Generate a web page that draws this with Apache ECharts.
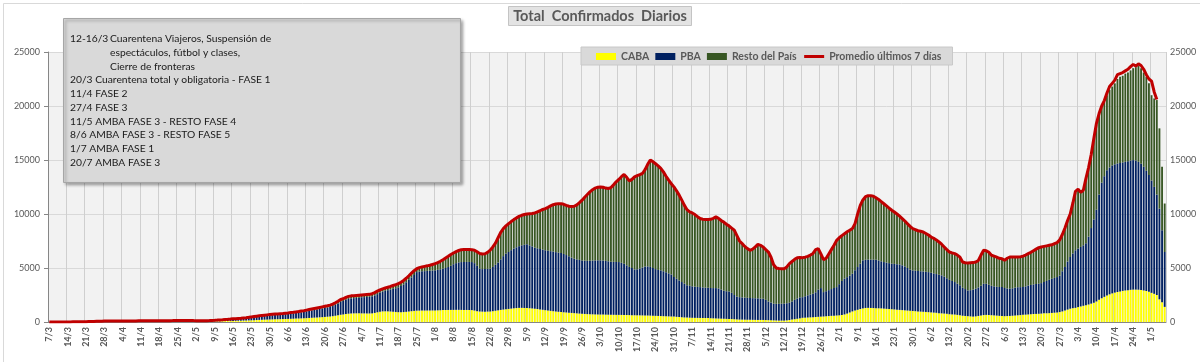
<!DOCTYPE html>
<html>
<head>
<meta charset="utf-8">
<script src="https://cdn.jsdelivr.net/npm/echarts@6/dist/echarts.min.js"></script>
<style>
html,body{margin:0;padding:0;background:#fff;}
#chart{width:1200px;height:362px;}
</style>
</head>
<body>
<div id="chart"></div>
<script>
// ---- DATA ----
const startDate = [2020, 3, 7]; // first category: 7/3/2020
const dayCount = 426;
const seriesNames = ['CABA', 'PBA', 'Resto del País', 'Promedio últimos 7 días'];
const yTicks = [0, 5000, 10000, 15000, 20000, 25000];

const caba = [
0,1,1,1,2,2,3, 3,4,5,6,7,8,10, 12,14,16,18,20,22,24, 26,28,29,30,30,30,30,
30,30,31,31,32,32,33, 33,33,34,34,35,35,36, 36,37,38,40,42,44,47, 50,52,53,52,51,49,46,
45,43,42,44,47,52,58, 62,68,74,80,86,92,98, 104,110,116,122,130,138,148, 158,170,182,194,205,215,225,
235,242,250,258,265,272,280, 288,296,305,315,325,336,348, 360,375,390,405,420,435,450, 470,490,510,540,580,620,670,
700,740,770,790,800,805,805, 800,795,790,790,800,840,900, 960,985,990,985,970,950,930, 910,910,920,940,970,1000,1030,
1050,1055,1060,1060,1065,1065,1070, 1070,1080,1090,1100,1110,1115,1120, 1120,1125,1125,1120,1120,1115,1110, 1100,1060,1000,970,960,960,965,
970,1000,1040,1080,1120,1150,1180, 1210,1240,1270,1290,1310,1310,1300, 1290,1275,1255,1230,1200,1165,1130, 1095,1060,1030,1000,970,945,920,
900,880,860,840,820,800,780, 760,745,730,720,710,700,695, 690,685,680,675,670,665,662, 660,655,650,645,640,630,625,
620,615,610,605,600,590,580, 570,560,550,540,530,520,510, 500,480,460,440,420,410,400, 390,385,380,375,370,365,360,
350,340,330,320,310,300,290, 280,270,255,240,225,220,215, 210,205,200,195,190,190,190, 180,170,160,150,140,130,130,
130,150,180,220,260,300,340, 390,400,415,430,440,460,480, 500,510,530,550,570,590,600, 620,650,700,780,880,980,1060,
1130,1200,1260,1300,1310,1300,1290, 1280,1270,1260,1240,1220,1200,1180, 1160,1140,1120,1100,1080,1060,1040, 1020,1000,980,960,945,930,910,
890,870,850,820,800,780,760, 720,700,690,660,620,580,560, 540,520,500,520,560,600,640, 660,650,630,610,590,570,550,
540,550,560,580,600,620,640, 660,680,700,720,740,750,760, 780,800,810,820,840,860,880, 920,980,1060,1150,1230,1280,1310,
1380,1440,1500,1560,1620,1700,1780, 1900,2050,2200,2330,2450,2560,2650, 2720,2780,2830,2880,2920,2950,2980, 3000,3000,2990,2960,2920,2870,2800,
2700,2610,2500,2100,1840,1400
];

const pba = [
0,0,1,1,1,1,1, 2,2,3,3,4,5,6, 8,10,12,14,17,20,23, 25,27,28,29,30,30,30,
31,32,32,33,33,34,34, 35,35,36,36,37,37,38, 39,40,42,44,46,50,53, 56,59,60,60,59,57,54,
52,50,49,50,54,58,64, 72,80,90,100,110,120,132, 145,158,170,182,196,210,228, 250,270,292,313,332,350,368,
385,396,406,416,428,440,455, 470,488,506,526,546,570,594, 625,655,685,715,745,775,805, 830,855,885,935,1010,1095,1190,
1250,1320,1370,1400,1410,1420,1440, 1490,1510,1530,1545,1580,1620,1680, 1780,1830,1900,1960,2030,2120,2200, 2300,2420,2560,2740,2940,3130,3320,
3570,3605,3630,3650,3665,3685,3700, 3710,3750,3790,3840,3890,3975,4080, 4230,4325,4395,4430,4440,4445,4450, 4450,4390,4200,3980,3940,3940,3955,
3960,4100,4260,4420,4680,4950,5170, 5270,5410,5530,5630,5710,5790,5850, 5900,5825,5745,5650,5620,5595,5570, 5545,5540,5530,5520,5500,5475,5470,
5400,5320,5220,5120,5040,5000,4970, 4940,4935,4930,4950,4980,5000,5015, 5020,5005,4980,4945,4920,4905,4898, 4890,4825,4750,4605,4460,4370,4245,
4260,4335,4440,4545,4550,4510,4420, 4330,4260,4230,4160,4070,3980,3890, 3660,3520,3390,3260,3130,2990,2950, 2910,2885,2870,2855,2830,2815,2800,
2800,2800,2810,2780,2690,2600,2560, 2550,2430,2245,2110,2075,2060,2045, 2030,2015,2010,2005,2000,1980,1960, 1870,1730,1640,1550,1540,1550,1560,
1570,1590,1600,1680,1790,1880,1940, 1910,1980,2055,2120,2180,2290,2520, 2640,2260,2320,2400,2480,2560,2630, 2880,3150,3310,3370,3420,3490,3740,
3960,4200,4450,4460,4470,4480,4480, 4480,4430,4360,4310,4280,4250,4220, 4220,4210,4210,4150,4070,3940,3810, 3760,3750,3740,3740,3735,3720,3710,
3670,3630,3590,3560,3520,3420,3290, 3180,3100,3010,2890,2780,2590,2490, 2380,2430,2500,2560,2640,2750,2900, 2880,2800,2720,2690,2670,2670,2680,
2610,2550,2520,2540,2580,2600,2590, 2590,2620,2680,2710,2740,2770,2780, 2820,2900,2990,3090,3160,3220,3280, 3380,3720,4040,4450,4790,5070,5330,
5420,5510,5600,5740,6280,7000,7720, 8500,9750,10700,11170,11610,11740,11850, 11880,11900,11890,11900,11910,11930,11970, 11990,11950,11840,11690,11450,11130,10800,
10400,9900,9300,8400,6650,5080
];

const resto = [
1,1,1,1,1,2,2, 3,4,4,5,6,7,8, 10,12,14,18,21,24,27, 31,33,35,36,37,38,38,
38,38,38,38,38,38,38, 37,38,36,37,36,36,35, 35,35,34,34,34,34,35, 36,37,37,36,35,34,32,
28,25,24,24,24,25,26, 28,30,31,32,34,36,38, 41,42,44,46,49,52,54, 57,60,61,63,63,65,67,
70,72,74,76,77,78,80, 82,86,89,94,99,104,108, 115,120,125,130,135,140,145, 150,155,160,165,170,178,185,
190,200,205,205,205,210,215, 210,215,220,225,235,245,260, 265,270,275,280,290,305,320, 330,340,350,360,370,380,390,
310,370,410,440,470,510,560, 620,670,740,820,920,990,1050, 1040,1070,1100,1150,1160,1160,1150, 1150,1200,1300,1400,1400,1420,1530,
1720,1850,2000,2300,2500,2550,2550, 2630,2650,2680,2720,2760,2780,2800, 2810,2920,3040,3220,3380,3540,3720, 3860,4020,4190,4340,4460,4540,4570,
4600,4600,4640,4740,4860,5050,5300, 5580,5870,6140,6380,6560,6700,6770, 6800,6790,6740,6740,6860,7130,7420, 7650,7970,8260,8150,7970,8200,8570,
8670,8700,8700,8950,9450,9890,9850, 9750,9630,9440,9200,8900,8630,8400, 8350,8150,7900,7580,7250,7000,6850, 6800,6680,6500,6350,6320,6320,6340,
6360,6460,6590,6500,6400,6350,6200, 6070,6000,6000,5650,5200,4980,4740, 4560,4420,4540,4750,5000,4930,4800, 4650,4580,4200,3600,3320,3270,3250,
3240,3360,3620,3700,3750,3780,3700, 3660,3620,3610,3650,3730,3950,3800, 3160,3000,3050,3350,3650,3950,4330, 4300,4200,4170,4200,4200,4180,4310,
4910,5400,5590,5840,5920,5920,5880, 5740,5650,5530,5400,5250,5100,4950, 4800,4650,4470,4330,4200,4100,4000, 3870,3800,3730,3700,3660,3550,3430,
3310,3250,3160,3030,2880,2750,2650, 2580,2600,2630,2650,2600,2380,2430, 2540,2530,2500,2470,2500,2850,3100, 3060,3000,2830,2800,2740,2660,2630,
2560,2800,2940,2900,2840,2800,2800, 2850,2900,2950,3020,3120,3230,3340, 3350,3300,3250,3190,3150,3170,3190, 3300,3400,3600,3800,3980,4650,5460,
5400,5050,5000,5900,6300,6600,7300, 7900,7400,7000,6900,6940,7200,7300, 7500,7820,7980,8020,8170,8220,8350, 8510,8650,8870,8850,8730,8700,8500,
7900,8190,8750,7430,5880,4490
];

const promedio = [
1,2,3,3,4,5,6, 8,10,12,14,17,20,24, 30,36,42,50,58,66,74, 82,88,92,95,97,98,98,
99,100,101,102,103,104,105, 105,106,106,107,108,108,109, 110,112,114,118,122,128,135, 142,148,150,148,145,140,132,
125,118,115,118,125,135,148, 162,178,195,212,230,248,268, 290,310,330,350,375,400,430, 465,500,535,570,600,630,660,
690,710,730,750,770,790,815, 840,870,900,935,970,1010,1050, 1100,1150,1200,1250,1300,1350,1400, 1450,1500,1560,1650,1780,1920,2080,
2150,2280,2370,2420,2440,2460,2480, 2500,2520,2540,2560,2620,2720,2860, 2980,3070,3150,3220,3290,3380,3460, 3550,3680,3850,4050,4280,4520,4750,
4930,5030,5100,5150,5200,5260,5330, 5400,5500,5620,5760,5920,6080,6250, 6390,6520,6620,6700,6720,6720,6710, 6700,6650,6500,6350,6300,6320,6450,
6650,6950,7300,7800,8300,8650,8900, 9110,9300,9480,9640,9780,9880,9950, 10000,10020,10040,10100,10200,10300,10420, 10500,10620,10750,10860,10930,10960,10960,
10900,10800,10720,10700,10720,10850,11050, 11280,11550,11800,12050,12250,12400,12480, 12510,12480,12400,12360,12450,12700,12980, 13200,13450,13660,13400,13070,13200,13440,
13550,13650,13750,14100,14600,14990,14850, 14650,14450,14220,13900,13500,13130,12800, 12510,12150,11750,11280,10800,10400,10200, 10100,9950,9750,9580,9520,9500,9500,
9510,9600,9730,9600,9400,9250,9050, 8900,8700,8500,8000,7500,7260,7000, 6800,6640,6750,6950,7190,7100,6950, 6700,6480,6000,5300,5000,4950,4940,
4940,5100,5400,5600,5800,5960,5980, 5960,6000,6080,6200,6350,6700,6800, 6300,5770,5900,6300,6700,7100,7560, 7800,8000,8180,8350,8500,8650,9110,
10000,10800,11300,11600,11700,11700,11650, 11500,11350,11150,10950,10750,10550,10350, 10180,10000,9800,9580,9350,9100,8850, 8650,8550,8450,8400,8340,8200,8050,
7870,7750,7600,7410,7200,6950,6700, 6480,6400,6330,6200,6000,5550,5480, 5460,5480,5500,5550,5700,6200,6640, 6600,6450,6180,6100,6000,5900,5860,
5710,5900,6020,6020,6020,6020,6030, 6100,6200,6330,6450,6600,6750,6880, 6950,7000,7050,7100,7150,7250,7350, 7600,8100,8700,9400,10000,11000,12100,
12300,12000,12200,13300,14300,15500,17000, 18400,19300,20000,20500,21200,21800,22100, 22400,22900,23000,23100,23250,23400,23650, 23850,23700,23900,23750,23400,22900,22500,
22300,21300,20600,null,null,null
];

const notes = [
  ['12-16/3', 'Cuarentena Viajeros, Suspensión de'],
  ['', 'espectáculos, fútbol y clases,'],
  ['', 'Cierre de fronteras'],
  ['20/3 Cuarentena total y obligatoria - FASE 1', ''],
  ['11/4 FASE 2', ''],
  ['27/4 FASE 3', ''],
  ['11/5 AMBA FASE 3 - RESTO FASE 4', ''],
  ['8/6 AMBA FASE 3 - RESTO FASE 5', ''],
  ['1/7 AMBA FASE 1', ''],
  ['20/7 AMBA FASE 3', '']
];

// category labels (d/m), one per day
const categories = [];
{
  const d0 = new Date(Date.UTC(startDate[0], startDate[1] - 1, startDate[2]));
  for (let i = 0; i < dayCount; i++) {
    const d = new Date(d0.getTime() + i * 86400000);
    categories.push(d.getUTCDate() + '/' + (d.getUTCMonth() + 1));
  }
}

// ---- CHART ----
const FONT = "Lato, 'Liberation Sans', sans-serif";
const chart = echarts.init(document.getElementById('chart'), null, {renderer: 'canvas'});

const noteGraphics = [];
noteGraphics.push({
  type: 'rect', left: 63, top: 18, z: 10,
  shape: {width: 397, height: 164},
  style: {fill: '#d9d9d9', stroke: '#a6a6a6', lineWidth: 1,
          shadowBlur: 3, shadowOffsetX: 2, shadowOffsetY: 2, shadowColor: 'rgba(0,0,0,0.35)'}
});
notes.forEach((row, k) => {
  const y = 39 + k * 13.7;
  if (row[0]) noteGraphics.push({type: 'text', x: 70, y: y, z: 11,
    style: {text: row[0], font: '10.3px ' + FONT, fill: '#1a1a1a', textVerticalAlign: 'middle'}});
  if (row[1]) noteGraphics.push({type: 'text', x: 110, y: y, z: 11,
    style: {text: row[1], font: '10.3px ' + FONT, fill: '#1a1a1a', textVerticalAlign: 'middle'}});
});

const option = {
  animation: false,
  backgroundColor: '#ffffff',
  title: {
    text: 'Total  Confirmados  Diarios',
    left: 'center', top: 6,
    backgroundColor: '#e3e3e3', borderColor: '#c4c4c4', borderWidth: 1,
    padding: [3, 5, 2, 5],
    textStyle: {fontFamily: FONT, fontSize: 14.5, fontWeight: 'bold', color: '#595959'}
  },
  legend: {
    left: 581, top: 47,
    backgroundColor: '#d9d9d9', borderColor: '#c8c8c8', borderWidth: 1,
    padding: [4, 11, 3, 15],
    itemGap: 6, itemWidth: 20, itemHeight: 7,
    textStyle: {fontFamily: FONT, fontSize: 10.5, fontWeight: 'bold', color: '#595959'},
    data: [
      {name: seriesNames[0], icon: 'rect'},
      {name: seriesNames[1], icon: 'rect'},
      {name: seriesNames[2], icon: 'rect'},
      {name: seriesNames[3], itemStyle: {opacity: 0}, lineStyle: {width: 3, color: '#c00000'}}
    ]
  },
  grid: {left: 48, right: 34, top: 52, bottom: 40, show: true, backgroundColor: '#f2f2f2', borderWidth: 0},
  xAxis: {
    type: 'category', data: categories, boundaryGap: true,
    axisLine: {lineStyle: {color: '#868686'}},
    axisTick: {interval: 0, length: 3, lineStyle: {color: '#868686'}},
    axisLabel: {interval: 6, rotate: 90, margin: 5, fontFamily: FONT, fontSize: 9, fontWeight: 'bold', color: '#595959'},
    splitLine: {show: true, interval: 6, lineStyle: {color: '#cfcfcf'}}
  },
  yAxis: [
    {type: 'value', min: yTicks[0], max: yTicks[yTicks.length - 1], interval: 5000, position: 'left',
     axisLine: {show: true, lineStyle: {color: '#868686'}},
     axisTick: {show: true, length: 4, lineStyle: {color: '#868686'}},
     axisLabel: {margin: 8, fontFamily: FONT, fontSize: 9, color: '#595959', formatter: v => String(v)},
     splitLine: {lineStyle: {color: '#d9d9d9'}}},
    {type: 'value', min: yTicks[0], max: yTicks[yTicks.length - 1], interval: 5000, position: 'right',
     axisLine: {show: false}, axisTick: {show: false},
     axisLabel: {margin: 4, fontFamily: FONT, fontSize: 9, color: '#595959', formatter: v => String(v)},
     splitLine: {show: false}}
  ],
  series: [
    {name: seriesNames[0], type: 'bar', stack: 'tot', data: caba, barCategoryGap: '30%',
     itemStyle: {color: '#ffff00'}},
    {name: seriesNames[1], type: 'bar', stack: 'tot', data: pba,
     itemStyle: {color: '#002060'}},
    {name: seriesNames[2], type: 'bar', stack: 'tot', data: resto,
     itemStyle: {color: '#375623'}},
    {name: seriesNames[3], type: 'line', data: promedio, symbol: 'none', z: 5,
     lineStyle: {color: '#c00000', width: 3}, itemStyle: {color: '#c00000'}}
  ],
  graphic: [
    {type: 'rect', left: 1, top: 1, z: -1, silent: true,
     shape: {width: 1197, height: 359}, style: {fill: 'none', stroke: '#d9d9d9', lineWidth: 1}}
  ].concat(noteGraphics)
};
chart.setOption(option);
</script>
</body>
</html>
